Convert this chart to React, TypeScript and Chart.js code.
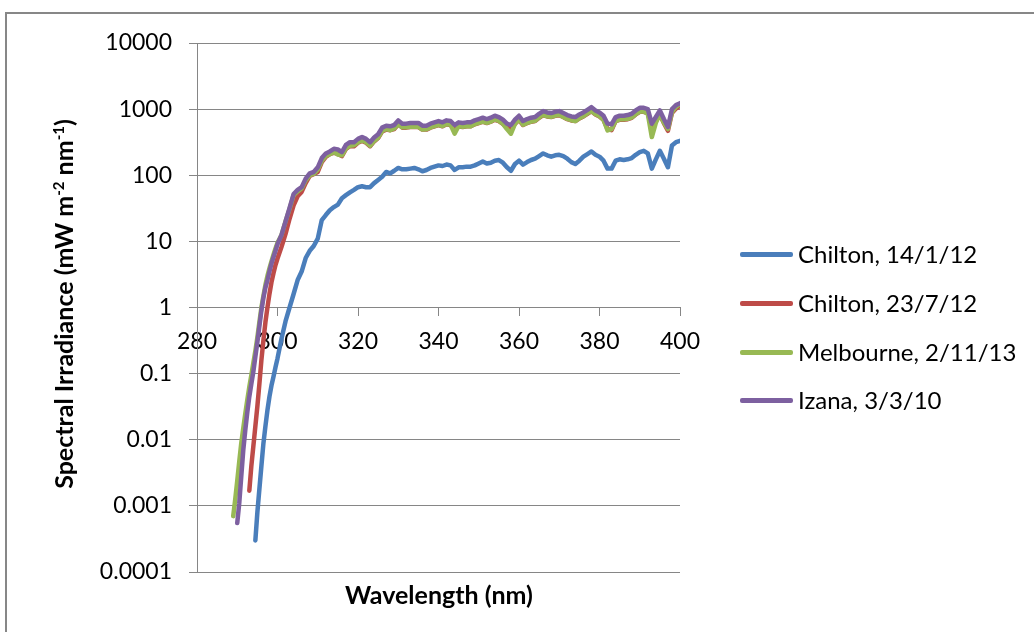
import React, { useEffect, useRef } from "react";
import { Chart, registerables } from "chart.js";

Chart.register(...registerables);

// Wavelength grid (nm)
const wavelengths = [
  289, 289.5, 290, 290.5, 291, 291.5, 292, 292.5, 293, 293.5, 294, 294.5, 295, 295.5, 296, 296.5, 297, 297.5, 298, 298.5, 299, 299.5, 300,
  301, 302, 303, 304, 305, 306, 307, 308, 309, 310,
  311, 312, 313, 314, 315, 316, 317, 318, 319, 320,
  321, 322, 323, 324, 325, 326, 327, 328, 329, 330,
  331, 332, 333, 334, 335, 336, 337, 338, 339, 340,
  341, 342, 343, 344, 345, 346, 347, 348, 349, 350,
  351, 352, 353, 354, 355, 356, 357, 358, 359, 360,
  361, 362, 363, 364, 365, 366, 367, 368, 369, 370,
  371, 372, 373, 374, 375, 376, 377, 378, 379, 380,
  381, 382, 383, 384, 385, 386, 387, 388, 389, 390,
  391, 392, 393, 394, 395, 396, 397, 398, 399, 400,
];

// Chilton, 14/1/12
const chiltonJan = [
  null, null, null, null, null, null, null, null, null, null, null, 0.0003, 0.0008, 0.0018, 0.004, 0.0088, 0.016, 0.028, 0.045, 0.066, 0.09, 0.125, 0.17,
  0.34, 0.62, 1.0, 1.6, 2.6, 3.5, 5.6, 7.2, 8.5, 11,
  21, 25, 29.5, 33, 36, 45, 50, 55, 60, 66,
  68, 66, 66, 76, 85, 95, 112, 107, 117, 129,
  123, 123, 126, 129, 123, 115, 120, 129, 135, 141,
  138, 145, 141, 120, 132, 132, 135, 135, 141, 151,
  162, 151, 155, 166, 170, 155, 132, 117, 148, 166,
  145, 158, 170, 178, 195, 214, 200, 191, 200, 204,
  195, 178, 158, 148, 166, 191, 209, 229, 204, 191,
  166, 126, 126, 166, 174, 170, 174, 182, 204, 224,
  234, 214, 126, 174, 234, 178, 132, 282, 316, 331,
];

// Chilton, 23/7/12
const chiltonJul = [
  null, null, null, null, null, null, null, null, 0.0017, 0.004, 0.008, 0.016, 0.032, 0.07, 0.16, 0.32, 0.6, 1.0, 1.6, 2.4, 3.3, 4.4, 5.5,
  8.3, 13, 22, 35, 48, 56, 76, 98, 104, 112,
  158, 190, 209, 220, 210, 195, 250, 275, 275, 310,
  330, 310, 275, 325, 365, 460, 490, 480, 500, 590,
  525, 525, 535, 535, 535, 490, 490, 525, 550, 575,
  550, 590, 575, 490, 550, 535, 550, 550, 590, 615,
  645, 615, 645, 690, 660, 600, 525, 490, 600, 690,
  575, 615, 645, 660, 740, 810, 775, 760, 790, 810,
  760, 705, 675, 660, 725, 775, 850, 930, 830, 775,
  690, 500, 480, 660, 690, 690, 705, 740, 830, 910,
  910, 870, 520, 660, 830, 615, 470, 870, 1020, 1120,
];

// Melbourne, 2/11/13
const melbourne = [
  0.0007, 0.00126, 0.0024, 0.0047, 0.0089, 0.015, 0.025, 0.04, 0.063, 0.095, 0.145, 0.22, 0.355, 0.6, 1.0, 1.5, 2.2, 3.0, 3.9, 5.0, 6.3, 7.8, 9.5,
  12.5, 20, 31, 50, 57, 63, 84, 100, 105, 122,
  165, 195, 208, 225, 205, 200, 255, 280, 285, 315,
  335, 315, 280, 330, 370, 465, 500, 480, 510, 590,
  530, 530, 540, 540, 540, 490, 495, 530, 555, 580,
  555, 595, 580, 425, 555, 540, 550, 550, 595, 620,
  650, 620, 650, 700, 665, 600, 500, 425, 600, 700,
  580, 620, 650, 665, 750, 820, 780, 765, 800, 820,
  760, 710, 680, 660, 730, 780, 860, 940, 840, 780,
  690, 475, 500, 660, 700, 700, 715, 750, 840, 920,
  920, 850, 378, 620, 840, 620, 500, 900, 1080, 1200,
];

// Izana, 3/3/10
const izana = [
  null, null, 0.00055, 0.0011, 0.0028, 0.007, 0.014, 0.026, 0.045, 0.07, 0.107, 0.18, 0.3, 0.52, 0.9, 1.4, 2.0, 2.6, 3.5, 4.6, 5.8, 7.2, 9.1,
  12.5, 20, 32, 52, 60, 66, 89, 107, 112, 132,
  182, 214, 229, 251, 245, 224, 288, 316, 316, 355,
  380, 355, 316, 372, 417, 525, 562, 550, 575, 676,
  603, 603, 617, 617, 617, 562, 562, 603, 631, 661,
  631, 676, 661, 575, 631, 617, 631, 631, 676, 708,
  741, 708, 741, 794, 759, 692, 603, 575, 692, 794,
  661, 708, 741, 759, 851, 933, 891, 871, 912, 933,
  871, 813, 776, 759, 832, 891, 977, 1072, 955, 891,
  794, 603, 589, 759, 794, 794, 813, 851, 955, 1047,
  1047, 1000, 603, 759, 955, 708, 537, 1000, 1150, 1230,
];

const seriesNames = ["Chilton, 14/1/12", "Chilton, 23/7/12", "Melbourne, 2/11/13", "Izana, 3/3/10"];
const seriesColors = ["#4A7EBB", "#BE4B48", "#98B954", "#7D60A0"];
const seriesValues = [chiltonJan, chiltonJul, melbourne, izana];
const seriesOrder = [3, 2, 1, 0];

const yTickValues = [0.0001, 0.001, 0.01, 0.1, 1, 10, 100, 1000, 10000];
const yTickLabels = ["0.0001", "0.001", "0.01", "0.1", "1", "10", "100", "1000", "10000"];
const xTickValues = [280, 300, 320, 340, 360, 380, 400];

const xTitle = "Wavelength (nm)";
const FONT = "Lato, 'Noto Sans', sans-serif";
const GRID = "#868686";

export default function App() {
  const canvasRef = useRef<HTMLCanvasElement | null>(null);

  useEffect(() => {
    const canvas = canvasRef.current;
    if (!canvas) return;
    const datasets = seriesValues.map((vals, si) => ({
      label: seriesNames[si],
      data: wavelengths
        .map((w, i) => ({ x: w, y: vals[i] }))
        .filter((p) => p.y !== null && p.y !== undefined),
      borderColor: seriesColors[si],
      backgroundColor: seriesColors[si],
      borderWidth: 4.5,
      pointRadius: 0,
      fill: false,
      tension: 0,
      borderJoinStyle: "round" as const,
      borderCapStyle: "round" as const,
      order: seriesOrder[si],
    }));

    const chart = new Chart(canvas, {
      type: "line",
      data: { datasets },
      options: {
        animation: false,
        responsive: false,
        maintainAspectRatio: false,
        layout: { padding: { left: 0, right: 354, top: 43, bottom: 60 } },
        plugins: {
          legend: { display: false },
          tooltip: { enabled: false },
          title: { display: false },
        },
        scales: {
          x: {
            type: "linear",
            min: 280,
            max: 400,
            position: { y: 1 } as any,
            afterBuildTicks: (s: any) => {
              s.ticks = xTickValues.map((v) => ({ value: v }));
            },
            afterFit: (s: any) => {
              s.height = 0;
            },
            ticks: {
              color: "#000",
              font: { family: FONT, size: 23 },
              padding: 12,
              maxRotation: 0,
              autoSkip: false,
              callback: (v: any) => String(v),
            },
            grid: {
              drawOnChartArea: false,
              drawTicks: true,
              tickLength: 8,
              color: GRID,
              lineWidth: 1,
            },
            border: { display: true, color: GRID, width: 1 },
          },
          y: {
            type: "logarithmic",
            min: 0.0001,
            max: 10000,
            position: "left",
            afterBuildTicks: (s: any) => {
              s.ticks = yTickValues.map((v) => ({ value: v }));
            },
            afterFit: (s: any) => {
              s.width = 197;
            },
            ticks: {
              color: "#000",
              font: { family: FONT, size: 23 },
              padding: 17,
              autoSkip: false,
              callback: (v: any) => {
                const idx = yTickValues.findIndex((t) => Math.abs(Math.log10(t) - Math.log10(Number(v))) < 1e-6);
                return idx >= 0 ? yTickLabels[idx] : "";
              },
            },
            grid: {
              drawOnChartArea: true,
              drawTicks: true,
              tickLength: 8,
              color: GRID,
              lineWidth: 1,
            },
            border: { display: true, color: GRID, width: 1 },
          },
        },
      },
    });
    return () => chart.destroy();
  }, []);

  const legendRows = [254, 303, 352, 400];

  return (
    <div
      style={{
        position: "absolute",
        left: 0,
        top: 0,
        width: 1034,
        height: 632,
        overflow: "hidden",
        background: "#fff",
        fontFamily: FONT,
      }}
    >
      <div
        style={{
          position: "absolute",
          left: 5,
          top: 12,
          width: 1100,
          height: 700,
          border: "2px solid #878787",
          boxSizing: "border-box",
        }}
      />
      <canvas ref={canvasRef} width={1034} height={632} style={{ position: "absolute", left: 0, top: 0 }} />
      <div
        style={{
          position: "absolute",
          left: 63,
          top: 304,
          width: 520,
          textAlign: "center",
          transform: "translate(-50%, -50%) rotate(-90deg)",
          fontWeight: 700,
          fontSize: 25,
          whiteSpace: "nowrap",
          color: "#000",
        }}
      >
        Spectral Irradiance (mW m<sup style={{ fontSize: "0.6em" }}>-2</sup> nm<sup style={{ fontSize: "0.6em" }}>-1</sup>)
      </div>
      <div
        style={{
          position: "absolute",
          left: 439,
          top: 594,
          transform: "translate(-50%, -50%)",
          fontWeight: 700,
          fontSize: 25,
          whiteSpace: "nowrap",
          color: "#000",
        }}
      >
        {xTitle}
      </div>
      {seriesNames.map((name, i) => (
        <div key={name}>
          <div
            style={{
              position: "absolute",
              left: 740,
              top: legendRows[i] - 2,
              width: 53,
              height: 4.5,
              borderRadius: 2,
              background: seriesColors[i],
            }}
          />
          <div
            style={{
              position: "absolute",
              left: 798,
              top: legendRows[i],
              transform: "translateY(-50%)",
              fontSize: 24,
              whiteSpace: "nowrap",
              color: "#000",
              lineHeight: 1.2,
            }}
          >
            {name}
          </div>
        </div>
      ))}
    </div>
  );
}
